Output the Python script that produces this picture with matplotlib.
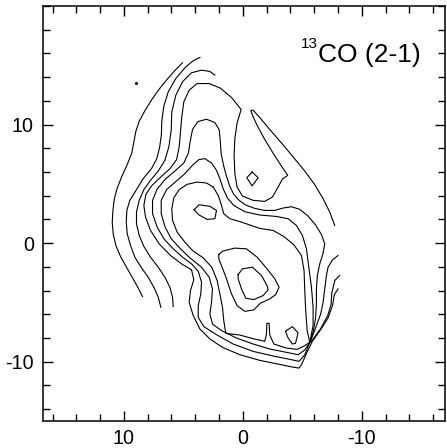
import matplotlib
matplotlib.use("Agg")
import matplotlib.pyplot as plt
from matplotlib.ticker import FixedLocator, MultipleLocator

plt.rcParams['font.family'] = ['Liberation Sans', 'DejaVu Sans']
plt.rcParams['axes.unicode_minus'] = False

# ---- traced contour lines (x offset, y offset in arcsec) ----
c1 = [(8.43,-4.51),(8.80,-3.77),(9.27,-2.93),(9.78,-2.03),(10.28,-1.13),(10.67,-0.20),(10.90,0.79),
      (10.98,1.77),(10.92,2.76),(10.81,3.69),(10.56,4.65),(10.17,5.63),(9.72,6.62),(9.33,7.61),
      (9.16,8.54),(8.99,9.44),(8.71,10.28),(8.21,11.21),(7.65,12.11),(6.97,13.07),(6.27,13.92),
      (5.63,14.65),(5.07,15.21)]
c2 = [(6.89,-5.41),(7.11,-4.56),(7.48,-3.72),(7.96,-2.87),(8.52,-2.08),(9.08,-1.18),(9.44,-0.20),
      (9.72,0.79),(9.80,1.77),(9.75,2.76),(9.50,3.61),(8.94,4.51),(8.38,5.44),(7.68,6.28),
      (7.24,7.10),(7.00,8.06),(6.85,9.10),(6.81,10.31),(6.64,11.55),(6.27,12.76),(5.63,13.89),
      (4.79,14.87),(4.17,15.38),(3.61,15.66)]
c3 = [(5.85,-5.35),(5.91,-4.56),(6.13,-3.72),(6.55,-2.87),(7.11,-2.03),(7.76,-1.18),(8.32,-0.28),
      (8.71,0.65),(8.94,1.63),(8.94,2.62),(8.71,3.61),(8.32,4.51),(7.76,5.30),(7.11,6.08),
      (6.55,6.99),(6.22,8.11),(6.02,9.52),(5.97,11.07),(5.63,12.48),(5.07,13.61),(4.31,14.37),
      (3.47,14.59),(2.77,14.48),(2.35,14.17)]
c4 = [(-8.01,-3.86),(-7.70,-4.34),(-7.54,-5.27),(-7.17,-6.31),(-6.53,-7.32),(-5.85,-8.28),(-5.35,-9.30),
      (-4.96,-10.20),(-4.73,-10.54),(-4.17,-10.45),(-3.11,-10.23),(-1.43,-9.89),(0.25,-9.41),(1.71,-8.79),
      (2.77,-8.08),(3.61,-7.24),(4.17,-6.11),(4.51,-4.99),(4.40,-4.00),(4.12,-3.10),(4.31,-2.25),
      (5.15,-1.75),(6.08,-1.04),(7.03,-0.06),(7.76,1.07),(8.18,2.20),(8.32,3.18),(8.15,4.11),
      (7.65,4.85),(6.89,5.58),(6.13,6.28),(5.57,7.04),(5.35,8.11),(5.24,9.38),(5.13,10.65),
      (4.96,11.92),(4.51,12.90),(3.84,13.46),(2.83,13.46),(1.88,13.07),(0.95,12.28),(0.14,11.27),
      (0.48,10.14),(0.67,8.82),(0.73,7.41),(0.67,5.86),(0.48,4.73),(0.03,3.97),(-0.87,3.61),
      (-1.85,3.52),(-2.49,3.89),(-2.94,4.68),(-3.33,5.41),(-3.78,5.72),(-3.33,6.37),(-2.61,7.49),
      (-1.85,8.73),(-1.20,9.94),(-0.81,10.79),(-0.67,11.21),(-0.87,11.21),(-1.43,10.59),(-2.27,9.58),
      (-3.25,8.45),(-4.23,7.27),(-5.21,6.08),(-6.05,4.93),(-6.75,3.75),(-7.31,2.62),(-7.73,1.49)]
c5 = [(-5.63,-8.37),(-5.91,-7.52),(-6.11,-6.39),(-6.19,-5.13),(-6.19,-3.86),(-6.27,-2.73),(-6.47,-1.75),
      (-6.75,-0.85),(-6.89,-0.06),(-6.61,0.73),(-6.13,1.52),(-5.49,2.28),(-4.79,2.85),(-4.09,3.07),
      (-3.39,2.96),(-2.69,2.76),(-1.85,2.76),(-1.01,2.93),(-0.25,3.21),(0.31,3.61),(0.76,4.11),
      (1.09,4.79),(1.37,5.63),(1.62,6.56),(1.82,7.55),(1.90,8.68),(1.99,9.58),(2.35,10.17),
      (3.05,10.45),(3.78,10.25),(4.23,9.58),(4.43,8.54),(4.57,7.61),(4.96,6.76),(5.71,6.08),
      (6.53,5.38),(7.20,4.56),(7.59,3.61),(7.59,2.48),(7.20,1.35),(6.64,0.37),(5.85,-0.48),
      (5.07,-1.18),(4.31,-1.75),(3.75,-2.37),(3.47,-3.30),(3.53,-4.28),(3.75,-5.27),(3.75,-6.25),
      (3.28,-7.04),(2.21,-7.72),(0.81,-8.51),(-0.87,-9.13),(-2.55,-9.52),(-3.95,-9.80),(-4.73,-9.97),
      (-5.21,-9.41),(-5.63,-8.37)]
c6 = [(-5.63,-8.37),(-5.91,-6.96),(-5.91,-5.41),(-5.77,-3.72),(-5.55,-2.03),(-5.35,-0.48),(-5.01,0.65),
      (-4.51,1.49),(-3.81,2.06),(-2.83,2.25),(-1.43,2.37),(-0.17,2.65),(0.76,3.18),(1.29,3.80),
      (1.65,4.59),(1.93,5.44),(2.21,6.14),(2.63,6.76),(3.19,7.13),(3.70,7.04),(4.26,6.54),
      (4.93,5.80),(5.69,5.15),(6.41,4.51),(6.86,3.61),(6.86,2.48),(6.53,1.35),(6.02,0.37),
      (5.24,-0.48),(4.45,-1.24),(3.47,-2.03),(2.83,-2.87),(2.55,-3.86),(2.63,-4.99),(2.77,-5.97),
      (2.55,-6.82),(1.79,-7.38),(0.53,-8.00),(-0.87,-8.51),(-2.27,-8.93),(-3.67,-9.21),(-4.65,-9.41),
      (-5.21,-9.01),(-5.63,-8.37)]
c7 = [(2.49,4.73),(2.07,4.03),(1.79,3.18),(1.60,2.48),(1.09,2.06),(0.39,1.86),(-0.45,1.58),
      (-1.43,1.24),(-2.55,1.07),(-3.45,0.56),(-4.29,-0.14),(-4.93,-1.04),(-5.15,-2.31),(-5.21,-4.00),
      (-5.29,-5.69),(-5.41,-7.38),(-5.63,-8.37),(-5.15,-8.68),(-4.57,-8.96),(-3.67,-8.85),(-2.61,-8.51),
      (-2.27,-7.75),(-2.21,-6.76),(-2.02,-6.76),(-1.99,-7.66),(-1.85,-8.28),(-0.87,-8.06),(0.25,-7.75),
      (1.43,-7.61),(1.60,-6.54),(1.71,-5.41),(1.93,-4.28),(2.16,-3.15),(2.61,-2.03),(3.33,-1.24),
      (4.23,-0.62),(4.87,0.08),(5.52,0.93),(5.91,1.92),(5.97,2.90),(5.80,3.83),(5.35,4.51),
      (4.68,4.96),(3.84,5.15),(3.05,5.07),(2.49,4.73)]
ring = [(2.02,-0.96),(1.71,-0.68),(0.67,-0.42),(-0.31,-0.48),(-1.20,-1.18),(-2.04,-2.17),(-2.69,-3.01),
        (-3.05,-3.72),(-2.77,-4.34),(-2.21,-4.73),(-1.48,-5.07),(-0.92,-5.63),(-0.17,-5.75),(0.48,-5.27),
        (0.95,-4.28),(1.37,-3.01),(1.74,-2.03),(2.02,-1.32),(2.02,-0.96)]
peak = [(0.39,-2.65),(0.03,-2.17),(-0.81,-2.03),(-1.57,-2.73),(-2.04,-3.58),(-2.13,-3.94),(-1.71,-4.42),
        (-0.92,-4.76),(-0.25,-4.65),(0.11,-3.86),(0.39,-3.01),(0.39,-2.65)]
oval = [(4.09,2.82),(3.67,3.24),(2.77,3.10),(2.21,2.76),(2.35,2.06),(3.00,2.00),(3.70,2.39),(4.09,2.82)]
knot_n = [(-0.78,6.00),(-1.29,5.52),(-0.78,4.82),(-0.34,5.52),(-0.78,6.00)]
knot_s = [(-3.59,-7.44),(-4.17,-7.04),(-4.65,-7.58),(-4.43,-8.45),(-4.17,-8.51),(-3.81,-8.00),(-3.59,-7.44)]
edge1 = [(-8.01,-1.04),(-7.54,-1.41),(-7.17,-2.03),(-7.03,-2.73),(-6.89,-3.86),(-6.75,-4.99),
         (-6.55,-5.97),(-6.19,-6.96),(-5.69,-8.28)]
edge2 = [(-8.15,-2.73),(-7.73,-3.15),(-7.48,-4.23),(-7.42,-5.18),(-7.14,-6.11),(-6.53,-7.24),(-5.77,-8.28)]
stray_dot = (9.0, 13.5)

x_major = [10, 0, -10]
y_major = [10, 0, -10]
label_sup = "13"
label_main = "CO (2-1)"

fig = plt.figure(figsize=(4.47, 4.48), dpi=100)
ax = fig.add_axes([0.0962, 0.0603, 0.8993, 0.9263])

for line in [c1, c2, c3, c4, c5, c6, c7, ring, peak, oval, knot_n, knot_s, edge1, edge2]:
    xs = [p[0] for p in line]
    ys = [p[1] for p in line]
    ax.plot(xs, ys, color='black', lw=0.8, solid_joinstyle='miter')
ax.plot([stray_dot[0]], [stray_dot[1]], marker='o', ms=1.2, color='black', lw=0)

ax.set_xlim(16.8, -17.0)
ax.set_ylim(-15.0, 20.0)
ax.xaxis.set_major_locator(FixedLocator(x_major))
ax.yaxis.set_major_locator(FixedLocator(y_major))
ax.xaxis.set_minor_locator(MultipleLocator(2))
ax.yaxis.set_minor_locator(MultipleLocator(2))
ax.tick_params(which='both', direction='in', top=True, right=True, width=1.0, color='black')
ax.tick_params(which='major', length=7.5, labelsize=14.2)
ax.tick_params(which='minor', length=5)
ax.tick_params(axis='x', pad=5.5)
ax.tick_params(axis='y', pad=6.5)
for s in ax.spines.values():
    s.set_linewidth(1.1)

ax.text(0.642, 0.899, label_sup, transform=ax.transAxes, fontsize=11, ha='left', va='baseline')
ax.text(0.684, 0.865, label_main, transform=ax.transAxes, fontsize=19, ha='left', va='baseline')

fig.savefig("out.png", dpi=100)
